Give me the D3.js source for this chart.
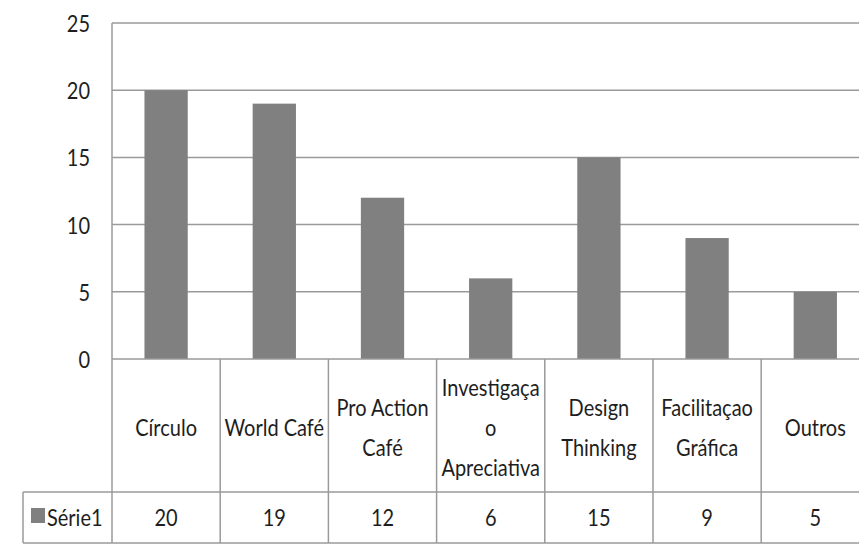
<!DOCTYPE html>
<html>
<head>
<meta charset="utf-8">
<script src="https://cdn.jsdelivr.net/npm/d3@7"></script>
<style>
  html, body { margin: 0; padding: 0; background: #fff; }
  svg { display: block; }
  text { font-family: Lato, "Open Sans", sans-serif; fill: #1e1e1e; }
</style>
</head>
<body>
<svg id="chart" width="859" height="554"></svg>
<script>
// Categories (each label split into the lines shown in the data table)
const categories = ["Círculo", "World Café", "Pro Action Café", "Investigaçao Apreciativa",
                    "Design Thinking", "Facilitaçao Gráfica", "Outros"];
const categoryLines = [["Círculo"], ["World Café"], ["Pro Action", "Café"],
                       ["Investigaça", "o", "Apreciativa"], ["Design", "Thinking"],
                       ["Facilitaçao", "Gráfica"], ["Outros"]];
const seriesName = "Série1";
const values = [20, 19, 12, 6, 15, 9, 5];
const yTicks = [0, 5, 10, 15, 20, 25];

const svg = d3.select("#chart");
const left = 112, plotTop = 23, plotBottom = 359;
const step = 108.2;
const catRowBottom = 492, valRowBottom = 543, legendLeft = 23;
const gridColor = "#9a9a9a";
const fontSize = 20, stretchY = 1.2;

const x = d3.scaleBand().domain(categories).range([left, left + step * categories.length]).padding(0);
const y = d3.scaleLinear().domain([0, 25]).range([plotBottom, plotTop]);
const barW = x.bandwidth() * 0.4;
const right = left + step * categories.length;

// helper: text drawn slightly taller than wide
function label(g, tx, ty, str, anchor) {
  return g.append("text")
    .attr("transform", `translate(${tx},${ty}) scale(1,${stretchY})`)
    .attr("text-anchor", anchor || "middle")
    .attr("font-size", fontSize)
    .text(str);
}

// gridlines
svg.append("g").selectAll("line").data(yTicks.filter(d => d > 0)).join("line")
  .attr("x1", left).attr("x2", right)
  .attr("y1", d => y(d)).attr("y2", d => y(d))
  .attr("stroke", gridColor).attr("stroke-width", 1.5);

// bars
svg.append("g").selectAll("rect").data(values).join("rect")
  .attr("x", (d, i) => x(categories[i]) + (x.bandwidth() - barW) / 2)
  .attr("width", barW)
  .attr("y", d => y(d))
  .attr("height", d => y(0) - y(d))
  .attr("fill", "#808080");

// y tick labels
const yg = svg.append("g");
yTicks.forEach(t => label(yg, 90, y(t) + 9, String(t), "end"));

// table lines
const tg = svg.append("g").attr("stroke", gridColor).attr("stroke-width", 1.5);
tg.append("line").attr("x1", left).attr("x2", left).attr("y1", plotTop).attr("y2", valRowBottom);
tg.append("line").attr("x1", left).attr("x2", right).attr("y1", y(0)).attr("y2", y(0));
tg.append("line").attr("x1", legendLeft).attr("x2", right).attr("y1", catRowBottom).attr("y2", catRowBottom);
tg.append("line").attr("x1", legendLeft).attr("x2", right).attr("y1", valRowBottom).attr("y2", valRowBottom);
tg.append("line").attr("x1", legendLeft).attr("x2", legendLeft).attr("y1", catRowBottom).attr("y2", valRowBottom);
tg.selectAll("line.div").data(categories).join("line").attr("class", "div")
  .attr("x1", d => x(d) + x.bandwidth()).attr("x2", d => x(d) + x.bandwidth())
  .attr("y1", y(0)).attr("y2", valRowBottom);

// category labels
const cg = svg.append("g");
const lineGap = 40, capMid = 427.5, capH = 17;
categoryLines.forEach((lines, i) => {
  const cx = x(categories[i]) + x.bandwidth() / 2;
  const first = capMid - (lines.length - 1) * lineGap / 2 + capH / 2;
  lines.forEach((s, k) => label(cg, cx, first + k * lineGap, s));
});

// value row with legend key
const vg = svg.append("g");
vg.append("rect").attr("x", 31).attr("y", 508).attr("width", 14).attr("height", 15).attr("fill", "#808080");
label(vg, 47, 526, seriesName, "start");
values.forEach((v, i) => label(vg, x(categories[i]) + x.bandwidth() / 2, 526, String(v)));
</script>
</body>
</html>
